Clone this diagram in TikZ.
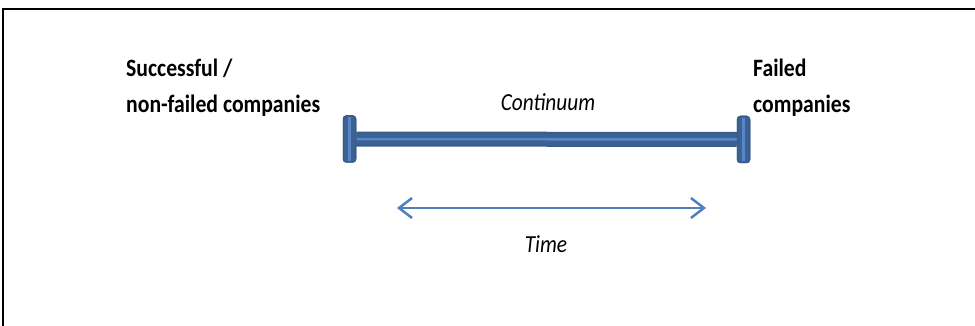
\documentclass[tikz,border=0pt]{standalone}
\usepackage{fontspec}
\setmainfont{Carlito}
\usetikzlibrary{arrows.meta}
\definecolor{barDark}{RGB}{56,93,138}
\definecolor{barBody}{RGB}{60,98,148}
\definecolor{barStripe}{RGB}{88,134,198}
\definecolor{timeBlue}{RGB}{79,129,189}
\newcommand\tallText[1]{\scalebox{1}[1.15]{#1}}
\tikzset{
  label/.style={inner sep=0pt, anchor=base west, font=\fontsize{21.7}{26}\selectfont\bfseries},
  caption/.style={inner sep=0pt, anchor=base, font=\fontsize{21.3}{26}\selectfont\itshape},
  endcap/.style={draw=barDark, fill=barBody, line width=1.5pt, rounded corners=3pt,
    minimum width=12pt, minimum height=46pt, inner sep=0pt},
}
\begin{document}
\begin{tikzpicture}[x=1pt, y=-1pt]
\useasboundingbox (0,0) rectangle (975,326);
% frame: top and left edges
\draw[line width=2.5pt, line cap=rect] (975,9) -- (3,9) -- (3,326);

% end caps of the continuum bar
\node[endcap] (lcap) at (349.5,139) {};
\node[endcap] (rcap) at (743.5,139.5) {};
% the bar itself: dark rim, body, light centre stripe
\draw[line width=15pt, barDark] (lcap.east) -- (rcap.west);
\draw[line width=11pt, barBody] (lcap.east) -- (rcap.west);
\draw[line width=2.5pt, barStripe] (lcap.east) -- (rcap.west);
\node[endcap] at (lcap) {};
\node[endcap] at (rcap) {};
\draw[line width=2.5pt, barStripe] ([yshift=-2pt]lcap.north) -- ([yshift=2pt]lcap.south);
\draw[line width=2.5pt, barStripe] ([yshift=-2pt]rcap.north) -- ([yshift=2pt]rcap.south);

% time arrow
\coordinate (tl) at (397,208);
\coordinate (tr) at (706,208);
\draw[timeBlue, line width=2.5pt,
  {Straight Barb[length=13pt, width=20pt]}-{Straight Barb[length=13pt, width=20pt]}] (tl) -- (tr);

% texts
\node[label] (succA) at (126,77) {\tallText{Successful /}};
\node[label] (succB) at (126,113) {\tallText{non-failed companies}};
\node[label] (failA) at (753,77) {\tallText{Failed}};
\node[label] (failB) at (753,113) {\tallText{companies}};
\node[caption] (cont) at (548,111) {\tallText{Continuum}};
\node[caption] (time) at (546,252) {\tallText{Time}};
\end{tikzpicture}
\end{document}
